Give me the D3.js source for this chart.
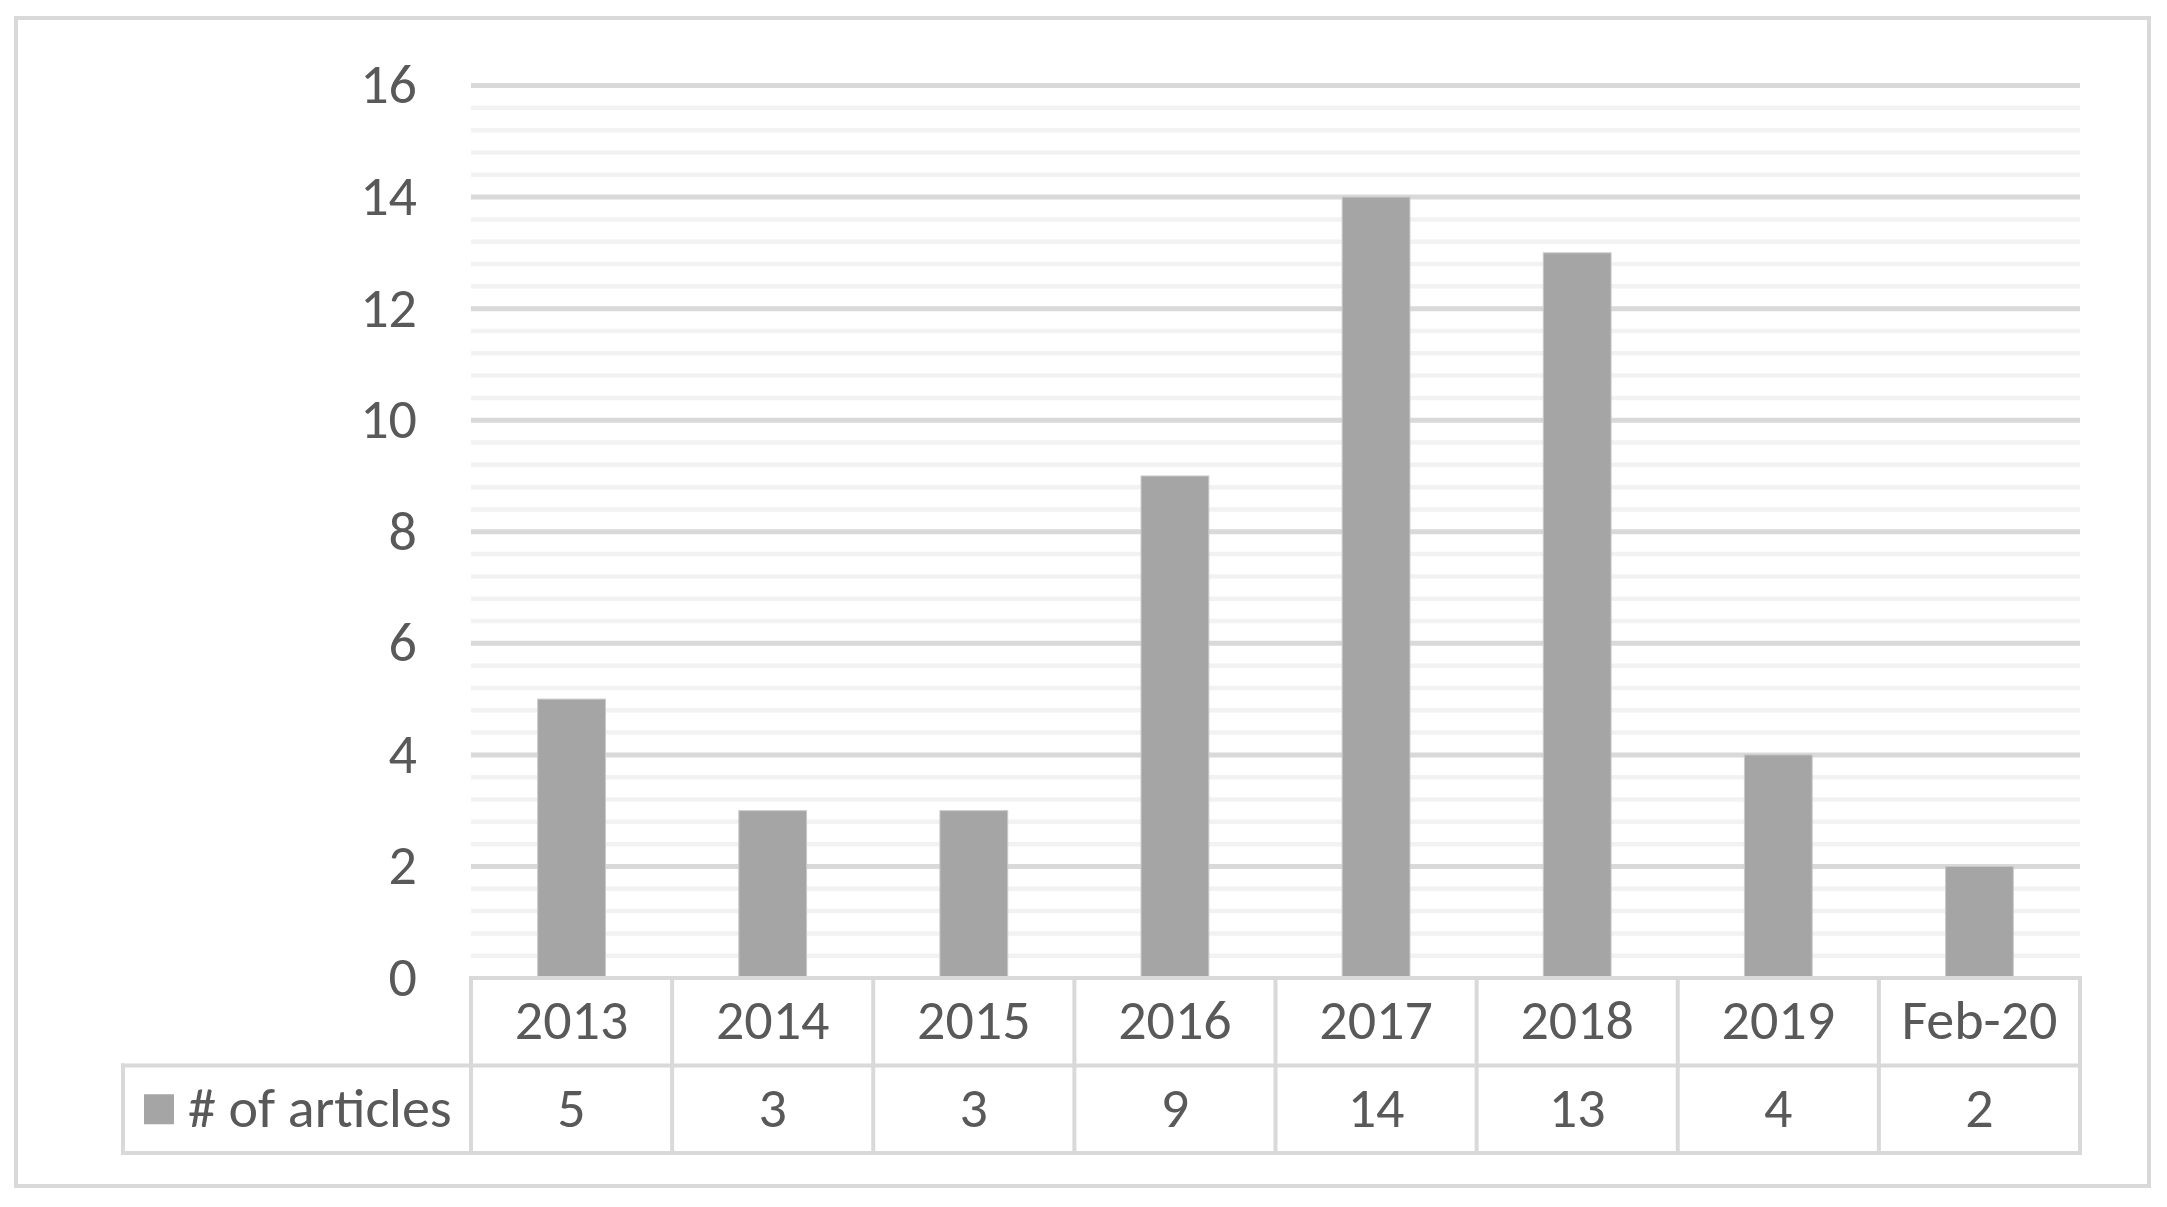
<!DOCTYPE html>
<html>
<head>
<meta charset="utf-8">
<script src="https://cdn.jsdelivr.net/npm/d3@7"></script>
<style>
  html, body { margin: 0; padding: 0; background: #ffffff; }
  svg { display: block; }
  text { font-family: Carlito, Calibri, Lato, "Open Sans", sans-serif; fill: #595959; }
</style>
</head>
<body>
<svg id="chart" width="2167" height="1207"></svg>
<script>
const categories = ["2013", "2014", "2015", "2016", "2017", "2018", "2019", "Feb-20"];
const articles = [5, 3, 3, 9, 14, 13, 4, 2];
const seriesName = "# of articles";
const yTicks = [0, 2, 4, 6, 8, 10, 12, 14, 16];
const yMinorStep = 0.4;

const W = 2167, H = 1207;
const plot = { left: 471, right: 2080, top: 85.5, bottom: 978 };
const table = { legendLeft: 123, rowH: 87.5 };
const gridMajor = "#d9d9d9", gridMinor = "#f2f2f2", border = "#d9d9d9";
const barColor = "#a5a5a5";
const fontSize = 56;

const svg = d3.select("#chart");

svg.append("rect").attr("width", W).attr("height", H).attr("fill", "#ffffff");
// outer chart border
svg.append("rect")
  .attr("x", 16).attr("y", 18).attr("width", 2133).attr("height", 1168)
  .attr("fill", "none").attr("stroke", border).attr("stroke-width", 4);

const y = d3.scaleLinear().domain([0, 16]).range([plot.bottom, plot.top]);
const xCell = d3.scaleBand().domain(categories).range([plot.left, plot.right]).padding(0);
const xBar = d3.scaleBand().domain(categories).range([plot.left, plot.right])
  .paddingInner(0.663).paddingOuter(0.3315);

// minor gridlines
const minorVals = d3.range(yMinorStep, 16, yMinorStep)
  .filter(v => Math.abs(v / 2 - Math.round(v / 2)) > 1e-6);
svg.append("g").selectAll("line").data(minorVals).join("line")
  .attr("x1", plot.left).attr("x2", plot.right)
  .attr("y1", d => y(d)).attr("y2", d => y(d))
  .attr("stroke", gridMinor).attr("stroke-width", 4.5);

// major gridlines
svg.append("g").selectAll("line").data(yTicks.filter(v => v > 0)).join("line")
  .attr("x1", plot.left).attr("x2", plot.right)
  .attr("y1", d => y(d)).attr("y2", d => y(d))
  .attr("stroke", gridMajor).attr("stroke-width", 5);

// y axis labels
const yAxis = d3.axisLeft(y).tickValues(yTicks).tickSize(0).tickPadding(0).tickFormat(d3.format("d"));
const gy = svg.append("g").attr("transform", `translate(417,0)`).call(yAxis);
gy.select(".domain").remove();
gy.selectAll("text")
  .attr("font-size", fontSize)
  .attr("font-family", null)
  .attr("fill", null)
  .attr("dy", "0.31em");

// bars
svg.append("g").selectAll("rect").data(articles).join("rect")
  .attr("x", (d, i) => xBar(categories[i]))
  .attr("width", xBar.bandwidth())
  .attr("y", d => y(d))
  .attr("height", d => y(0) - y(d))
  .attr("fill", barColor)
  .attr("stroke", "#c9c9c9").attr("stroke-width", 1);

// data table
const r0 = plot.bottom, r1 = plot.bottom + table.rowH, r2 = plot.bottom + 2 * table.rowH;
const tg = svg.append("g").attr("stroke", border).attr("stroke-width", 4).attr("stroke-linecap", "square");
tg.append("line").attr("x1", plot.left).attr("x2", plot.right).attr("y1", r0).attr("y2", r0);
tg.append("line").attr("x1", table.legendLeft).attr("x2", plot.right).attr("y1", r1).attr("y2", r1);
tg.append("line").attr("x1", table.legendLeft).attr("x2", plot.right).attr("y1", r2).attr("y2", r2);
tg.append("line").attr("x1", table.legendLeft).attr("x2", table.legendLeft).attr("y1", r1).attr("y2", r2);
const colEdges = categories.map(c => xCell(c)).concat([plot.right]);
tg.selectAll("line.col").data(colEdges).join("line").attr("class", "col")
  .attr("x1", d => d).attr("x2", d => d).attr("y1", r0).attr("y2", r2);

// header row
svg.append("g").selectAll("text").data(categories).join("text")
  .attr("x", d => xCell(d) + xCell.bandwidth() / 2)
  .attr("y", (r0 + r1) / 2 - 1)
  .attr("dy", "0.33em")
  .attr("text-anchor", "middle")
  .attr("font-size", fontSize)
  .text(d => d);

// value row
svg.append("g").selectAll("text").data(articles).join("text")
  .attr("x", (d, i) => xCell(categories[i]) + xCell.bandwidth() / 2)
  .attr("y", (r1 + r2) / 2 - 1)
  .attr("dy", "0.33em")
  .attr("text-anchor", "middle")
  .attr("font-size", fontSize)
  .text(d => d);

// legend cell
svg.append("rect").attr("x", 144).attr("y", (r1 + r2) / 2 - 15).attr("width", 30).attr("height", 30)
  .attr("fill", barColor);
svg.append("text").attr("x", 188).attr("y", (r1 + r2) / 2 - 1).attr("dy", "0.33em")
  .attr("font-size", fontSize).text(seriesName);
</script>
</body>
</html>
